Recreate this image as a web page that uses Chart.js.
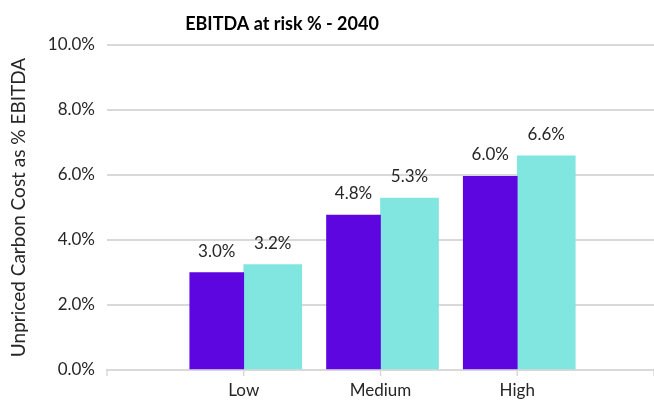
<!DOCTYPE html>
<html>
<head>
<meta charset="utf-8">
<script src="https://cdn.jsdelivr.net/npm/chart.js@4/dist/chart.umd.min.js"></script>
<style>
  html, body { margin: 0; padding: 0; background: #ffffff; }
  canvas { display: block; }
</style>
</head>
<body>
<canvas id="c" width="654" height="400"></canvas>
<script>
// ---- data ----
const chartTitle = "EBITDA at risk % - 2040";
const yAxisTitle = "Unpriced Carbon Cost as % EBITDA";
const categories = ["Low", "Medium", "High"];
const seriesA = [3.0, 4.77, 5.96];   // purple
const seriesB = [3.24, 5.29, 6.59];  // teal
const yTicks = [0, 2, 4, 6, 8, 10];

// padded category axis (empty slot at each end, as in the reference)
const labels = [""].concat(categories, [""]);
const pad = arr => [null].concat(arr, [null]);

const FONT = "Lato, 'Open Sans', sans-serif";
const TEXT = "#262626";
const GRID = "#d9d9d9";

const overlayPlugin = {
  id: 'overlay',
  afterDraw(chart) {
    const ctx = chart.ctx;
    ctx.save();
    // x-axis tick marks at category positions
    const xs = chart.scales.x;
    const y0 = chart.chartArea.bottom;
    ctx.strokeStyle = GRID;
    ctx.lineWidth = 1.5;
    xs.ticks.forEach((t, i) => {
      const px = xs.getPixelForTick(i);
      ctx.beginPath();
      ctx.moveTo(px, y0);
      ctx.lineTo(px, y0 + 6);
      ctx.stroke();
    });
    // value labels
    ctx.font = "17px " + FONT;
    ctx.fillStyle = TEXT;
    ctx.textAlign = 'center';
    ctx.textBaseline = 'alphabetic';
    chart.data.datasets.forEach((ds, di) => {
      const meta = chart.getDatasetMeta(di);
      meta.data.forEach((bar, i) => {
        const v = ds.data[i];
        if (v == null) return;
        ctx.fillText(v.toFixed(1) + '%', bar.x, bar.y - 16);
      });
    });
    // title
    ctx.font = "bold 18px " + FONT;
    ctx.fillStyle = "#000000";
    ctx.fillText(chartTitle, 282, 30);
    ctx.restore();
  }
};

new Chart(document.getElementById('c'), {
  type: 'bar',
  data: {
    labels: labels,
    datasets: [
      { label: 'A', data: pad(seriesA), backgroundColor: '#5e06e0', barThickness: 54 },
      { label: 'B', data: pad(seriesB), backgroundColor: '#80e6df', barThickness: 58 }
    ]
  },
  options: {
    responsive: false,
    animation: false,
    devicePixelRatio: 1,
    layout: { padding: { top: 45, right: 0, bottom: 0, left: 0 } },
    plugins: { legend: { display: false }, title: { display: false }, tooltip: { enabled: false } },
    scales: {
      x: {
        offset: false,
        afterFit: s => { s.height = 30; },
        grid: { display: false, drawTicks: true, tickLength: 10 },
        border: { display: true, color: GRID, width: 2 },
        ticks: { color: TEXT, font: { family: FONT, size: 17 }, padding: 0, maxRotation: 0, autoSkip: false }
      },
      y: {
        min: 0, max: 10,
        afterBuildTicks: s => { s.ticks = yTicks.map(v => ({ value: v })); },
        afterFit: s => { s.width = 107; },
        grid: { color: GRID, lineWidth: 2, drawTicks: false },
        border: { display: false },
        ticks: { color: TEXT, font: { family: FONT, size: 17 }, padding: 12, callback: v => v.toFixed(1) + '%' },
        title: { display: true, text: yAxisTitle, color: TEXT, font: { family: FONT, size: 19 }, padding: { top: 7, bottom: 0 } }
      }
    }
  },
  plugins: [overlayPlugin]
});
</script>
</body>
</html>
